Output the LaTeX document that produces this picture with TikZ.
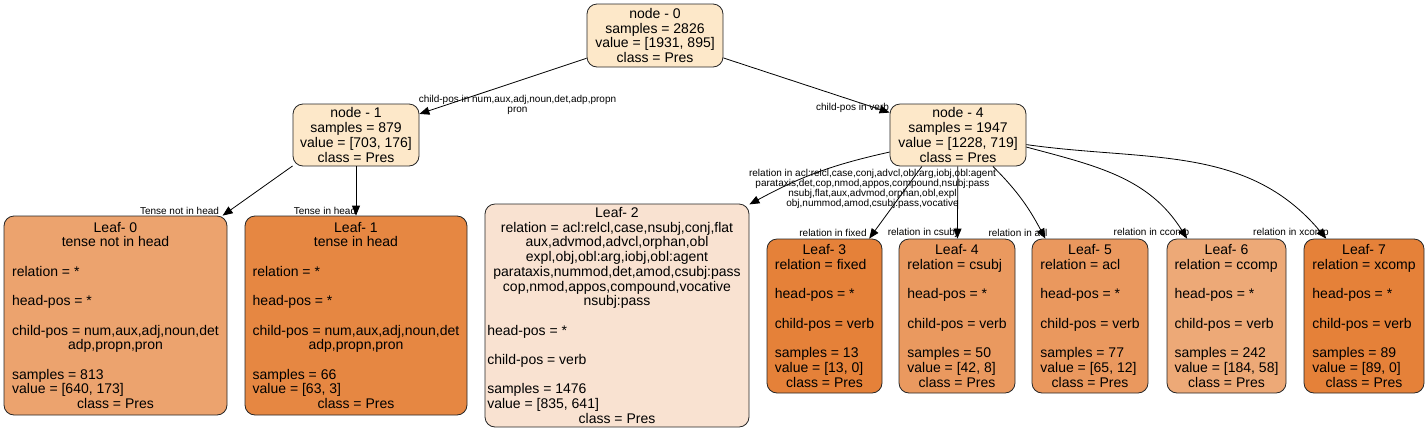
\documentclass[tikz,border=0pt]{standalone}
\usepackage{fontspec}
\setmainfont{Liberation Sans}
\usetikzlibrary{arrows.meta}

\definecolor{splitfill}{HTML}{FDE8C9}
\definecolor{leafa}{HTML}{ECA36E}
\definecolor{leafb}{HTML}{E68742}
\definecolor{leafc}{HTML}{F9E2D1}
\definecolor{leafd}{HTML}{E58139}
\definecolor{leafe}{HTML}{EA995F}
\definecolor{leaff}{HTML}{EA985E}
\definecolor{leafg}{HTML}{EDA977}

\newcommand{\ctr}[1]{\multicolumn{1}{c}{#1}}
\newcommand{\leaftext}[1]{\raisebox{-2pt}[\height][\depth]{\begin{tabular}{@{}l@{}}#1\end{tabular}}}

\tikzset{
  inode/.style={draw=black!85, line width=0.8pt, rounded corners=10pt, fill=splitfill,
    inner sep=0pt, align=center, font=\fontsize{14}{14.7}\selectfont},
  leafbox/.style={draw=black!85, line width=0.8pt, rounded corners=10pt,
    inner sep=0pt, font=\fontsize{14}{14.7}\selectfont},
  elabel/.style={inner sep=0pt, align=center, font=\fontsize{10}{10}\selectfont},
  >={Triangle[length=10pt,width=8pt]}
}

\begin{document}
\begin{tikzpicture}[x=1pt,y=-1pt,line width=0.8pt]
    \useasboundingbox (0,0) rectangle (1428,432);
    \node[inode,minimum width=136,minimum height=63] (n0) at (655,35.5) {node - 0\\samples = 2826\\value = [1931, 895]\\class = Pres};
    \node[inode,minimum width=126,minimum height=62] (n1) at (356,135) {node - 1\\samples = 879\\value = [703, 176]\\class = Pres};
    \node[inode,minimum width=136,minimum height=62] (n4) at (958,135) {node - 4\\samples = 1947\\value = [1228, 719]\\class = Pres};

    \node[leafbox,fill=leafa,minimum width=223,minimum height=199] (l0) at (115.5,315.5) {\leaftext{
      \ctr{Leaf- 0}\\ \ctr{tense not in head}\\ \\ relation = *\\ \\ head-pos = *\\ \\
      child-pos = num,aux,adj,noun,det\\ \ctr{adp,propn,pron}\\ \\
      samples = 813\\ value = [640, 173]\\ \ctr{class = Pres}}};
    \node[leafbox,fill=leafb,minimum width=222,minimum height=199] (l1) at (356,315.5) {\leaftext{
      \ctr{Leaf- 1}\\ \ctr{tense in head}\\ \\ relation = *\\ \\ head-pos = *\\ \\
      child-pos = num,aux,adj,noun,det\\ \ctr{adp,propn,pron}\\ \\
      samples = 66\\ value = [63, 3]\\ \ctr{class = Pres}}};
    \node[leafbox,fill=leafc,minimum width=264,minimum height=223] (l2) at (617,315.5) {\leaftext{
      \ctr{Leaf- 2}\\ \ctr{relation = acl:relcl,case,nsubj,conj,flat}\\ \ctr{aux,advmod,advcl,orphan,obl}\\
      \ctr{expl,obj,obl:arg,iobj,obl:agent}\\ \ctr{parataxis,nummod,det,amod,csubj:pass}\\
      \ctr{cop,nmod,appos,compound,vocative}\\ \ctr{nsubj:pass}\\ \\ head-pos = *\\ \\
      child-pos = verb\\ \\ samples = 1476\\ value = [835, 641]\\ \ctr{class = Pres}}};
    \node[leafbox,fill=leafd,minimum width=115,minimum height=154] (l3) at (824.5,316) {\leaftext{
      \ctr{Leaf- 3}\\ relation = fixed\\ \\ head-pos = *\\ \\ child-pos = verb\\ \\
      samples = 13\\ value = [13, 0]\\ \ctr{class = Pres}}};
    \node[leafbox,fill=leafe,minimum width=116,minimum height=154] (l4) at (957,316) {\leaftext{
      \ctr{Leaf- 4}\\ relation = csubj\\ \\ head-pos = *\\ \\ child-pos = verb\\ \\
      samples = 50\\ value = [42, 8]\\ \ctr{class = Pres}}};
    \node[leafbox,fill=leaff,minimum width=116,minimum height=154] (l5) at (1090,316) {\leaftext{
      \ctr{Leaf- 5}\\ relation = acl\\ \\ head-pos = *\\ \\ child-pos = verb\\ \\
      samples = 77\\ value = [65, 12]\\ \ctr{class = Pres}}};
    \node[leafbox,fill=leafg,minimum width=119,minimum height=154] (l6) at (1226.5,316) {\leaftext{
      \ctr{Leaf- 6}\\ relation = ccomp\\ \\ head-pos = *\\ \\ child-pos = verb\\ \\
      samples = 242\\ value = [184, 58]\\ \ctr{class = Pres}}};
    \node[leafbox,fill=leafd,minimum width=120,minimum height=154] (l7) at (1364,316) {\leaftext{
      \ctr{Leaf- 7}\\ relation = xcomp\\ \\ head-pos = *\\ \\ child-pos = verb\\ \\
      samples = 89\\ value = [89, 0]\\ \ctr{class = Pres}}};

    % edge labels
    \node[elabel] (t01) at (517.5,105) {child-pos in num,aux,adj,noun,det,adp,propn\\pron};
    \node[elabel] (t04) at (852.5,107.5) {child-pos in verb};
    \node[elabel] (t10) at (179.5,211) {Tense not in head};
    \node[elabel] (t11) at (325,211) {Tense in head};
    \node[elabel] (t42) at (872.5,189) {relation in acl:relcl,case,conj,advcl,obl:arg,iobj,obl:agent\\parataxis,det,cop,nmod,appos,compound,nsubj:pass\\nsubj,flat,aux,advmod,orphan,obl,expl\\obj,nummod,amod,csubj:pass,vocative};
    \node[elabel] (t43) at (833,233) {relation in fixed};
    \node[elabel] (t44) at (922.5,233) {relation in csubj};
    \node[elabel] (t45) at (1018,233) {relation in acl};
    \node[elabel] (t46) at (1151.5,233) {relation in ccomp};
    \node[elabel] (t47) at (1291,233) {relation in xcomp};

    \draw[arrows={->}] (n0)--(n1);
    \draw[arrows={->}] (n0)--(n4);
    \draw[arrows={->}] (n1.206)--(l0.43);
    \draw[arrows={->}] (n1)--(l1);
    \draw[arrows={->}] (n4.194) to[bend right=8] (l2.40);
    \draw[arrows={->}] (n4.221)--(l3.60);
    \draw[arrows={->}] (n4)--(l4);
    \draw[arrows={->}] (n4.318) to[out=-45,in=118] (l5.120);
    \draw[arrows={->}] (n4.350) to[out=-15,in=122] (l6.117);
    \draw[arrows={->}] (n4.352) to[out=-8,in=130] (l7.116);
\end{tikzpicture}
\end{document}
